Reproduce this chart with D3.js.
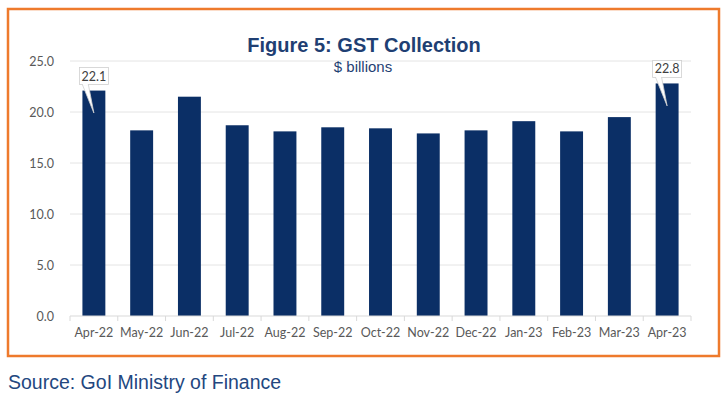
<!DOCTYPE html>
<html>
<head>
<meta charset="utf-8">
<script src="https://cdn.jsdelivr.net/npm/d3@7"></script>
<style>
  body { margin: 0; background: #fff; }
  svg { display: block; }
</style>
</head>
<body>
<script>
// Data
var months = ["Apr-22", "May-22", "Jun-22", "Jul-22", "Aug-22", "Sep-22", "Oct-22",
              "Nov-22", "Dec-22", "Jan-23", "Feb-23", "Mar-23", "Apr-23"];
var gst = [22.1, 18.2, 21.5, 18.7, 18.1, 18.5, 18.4, 17.9, 18.2, 19.1, 18.1, 19.5, 22.8];
var yTicks = [0, 5, 10, 15, 20, 25];
var callouts = ["Apr-22", "Apr-23"]; // bars that get a value label

var width = 727, height = 397;
var svg = d3.select("body").append("svg")
    .attr("width", width)
    .attr("height", height);

// Orange frame
svg.append("rect")
    .attr("x", 8).attr("y", 9)
    .attr("width", 711).attr("height", 347)
    .attr("fill", "none")
    .attr("stroke", "#ee7a2c")
    .attr("stroke-width", 2.5);

var plot = { left: 70, right: 691, top: 61, bottom: 316 };

var x = d3.scaleBand()
    .domain(months)
    .range([plot.left, plot.right])
    .paddingInner(0.52)
    .paddingOuter(0.26);

var y = d3.scaleLinear()
    .domain([0, 25])
    .range([plot.bottom, plot.top]);

// Gridlines
svg.append("g")
    .selectAll("line")
    .data(yTicks.slice(1))
    .enter().append("line")
    .attr("x1", plot.left).attr("x2", plot.right)
    .attr("y1", d => y(d)).attr("y2", d => y(d))
    .attr("stroke", "#e4e4e4")
    .attr("stroke-width", 1);

// Y axis labels
var yAxis = svg.append("g")
    .attr("transform", "translate(" + (plot.left - 13) + ",0)")
    .call(d3.axisLeft(y).tickValues(yTicks).tickFormat(d3.format(".1f")).tickSize(0));
yAxis.select(".domain").remove();
yAxis.selectAll("text")
    .attr("font-family", "Lato, 'Open Sans', sans-serif")
    .attr("font-size", "12.5px")
    .attr("fill", "#595959")
    .attr("dy", "0.32em");

// Bars
svg.append("g")
    .selectAll("rect")
    .data(gst)
    .enter().append("rect")
    .attr("x", (d, i) => x(months[i]))
    .attr("width", x.bandwidth())
    .attr("y", d => y(d))
    .attr("height", d => y(0) - y(d))
    .attr("fill", "#0b2f66");

// X axis with ticks at category boundaries
var xAxis = svg.append("g")
    .attr("transform", "translate(0," + plot.bottom + ")");
xAxis.append("line")
    .attr("x1", plot.left).attr("x2", plot.right)
    .attr("stroke", "#d9d9d9");
xAxis.selectAll(".bound")
    .data(d3.range(months.length + 1))
    .enter().append("line")
    .attr("class", "bound")
    .attr("x1", i => plot.left + i * (plot.right - plot.left) / months.length)
    .attr("x2", i => plot.left + i * (plot.right - plot.left) / months.length)
    .attr("y1", 0).attr("y2", 5)
    .attr("stroke", "#d9d9d9");
xAxis.selectAll(".lbl")
    .data(months)
    .enter().append("text")
    .attr("class", "lbl")
    .attr("x", d => x(d) + x.bandwidth() / 2)
    .attr("y", 21)
    .attr("text-anchor", "middle")
    .attr("font-family", "Lato, 'Open Sans', sans-serif")
    .attr("font-size", "12.5px")
    .attr("fill", "#595959")
    .text(d => d);

// Callout labels
var boxW = 29, boxH = 17;
callouts.forEach(function(m) {
    var i = months.indexOf(m);
    var cx = x(m) + x.bandwidth() / 2;
    var top = y(gst[i]);
    var bx = cx - boxW / 2, by = top - boxH - 6;
    var g = svg.append("g");
    // pointer wedge into the bar
    g.append("path")
        .attr("d", "M" + (bx + 3) + "," + (by + boxH) +
                   "L" + (cx) + "," + (y(gst[i] - 2.2)) +
                   "L" + (bx + 9) + "," + (by + boxH) + "Z")
        .attr("fill", "#fff")
        .attr("stroke", "#cfcfcf")
        .attr("stroke-width", 0.8);
    g.append("rect")
        .attr("x", bx).attr("y", by)
        .attr("width", boxW).attr("height", boxH)
        .attr("fill", "#fff")
        .attr("stroke", "#cfcfcf")
        .attr("stroke-width", 0.8);
    // cover the seam between box and wedge
    g.append("line")
        .attr("x1", bx + 3.5).attr("x2", bx + 8.5)
        .attr("y1", by + boxH).attr("y2", by + boxH)
        .attr("stroke", "#fff").attr("stroke-width", 1.2);
    g.append("text")
        .attr("x", cx).attr("y", by + 13)
        .attr("text-anchor", "middle")
        .attr("font-family", "Lato, 'Open Sans', sans-serif")
        .attr("font-size", "12.5px")
        .attr("fill", "#404040")
        .text(gst[i].toFixed(1));
});

// Titles
svg.append("text")
    .attr("x", 364).attr("y", 52)
    .attr("text-anchor", "middle")
    .attr("font-family", "'Liberation Sans', Arial, sans-serif")
    .attr("font-weight", "bold")
    .attr("font-size", "20px")
    .attr("fill", "#1f3f73")
    .text("Figure 5: GST Collection");

svg.append("text")
    .attr("x", 363).attr("y", 72)
    .attr("text-anchor", "middle")
    .attr("font-family", "'Liberation Sans', Arial, sans-serif")
    .attr("font-size", "15px")
    .attr("fill", "#1f3f73")
    .text("$ billions");

svg.append("text")
    .attr("x", 8).attr("y", 389)
    .attr("font-family", "'Liberation Sans', Arial, sans-serif")
    .attr("font-size", "19.5px")
    .attr("fill", "#23477f")
    .text("Source: GoI Ministry of Finance");
</script>
</body>
</html>
